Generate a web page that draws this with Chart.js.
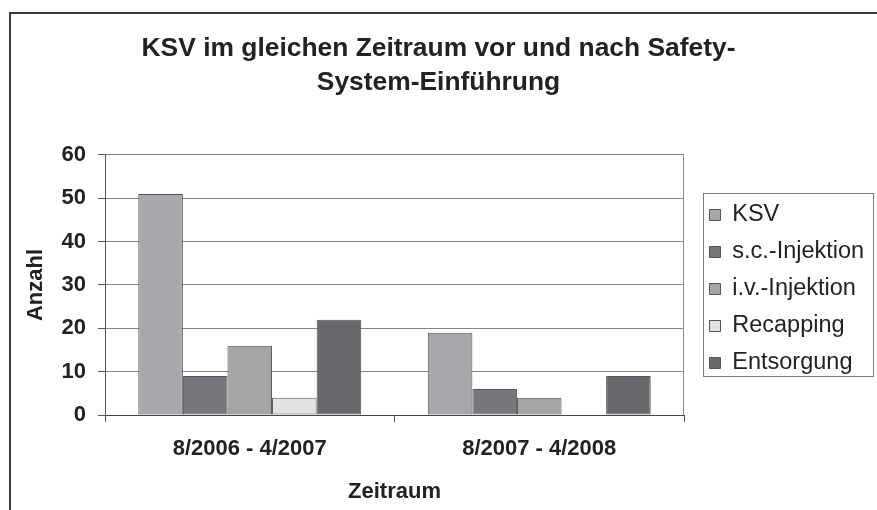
<!DOCTYPE html>
<html>
<head>
<meta charset="utf-8">
<script src="https://cdn.jsdelivr.net/npm/chart.js@4/dist/chart.umd.min.js"></script>
<style>
  html, body { margin: 0; padding: 0; background: #ffffff; }
  #wrap { width: 877px; height: 510px; }
</style>
</head>
<body>
<div id="wrap"><canvas id="c" width="877" height="510"></canvas></div>
<script>
// ---- data ----
const categories = ['8/2006 - 4/2007', '8/2007 - 4/2008'];
const seriesNames = ['KSV', 's.c.-Injektion', 'i.v.-Injektion', 'Recapping', 'Entsorgung'];
const ksv = [51, 19];
const scInjektion = [9, 6];
const ivInjektion = [16, 4];
const recapping = [4, 0];
const entsorgung = [22, 9];
const yTicks = [0, 10, 20, 30, 40, 50, 60];
const titleLines = ['KSV im gleichen Zeitraum vor und nach Safety-', 'System-Einführung'];
const yTitle = 'Anzahl';
const xTitle = 'Zeitraum';

// ---- styles ----
const FONT = '"Liberation Sans", Arial, Helvetica, sans-serif';
const TEXT = '#222222';
const colors = ['#a7a8ab', '#76777a', '#a4a5a7', '#e1e2e3', '#67686b'];
const seriesValues = [ksv, scInjektion, ivInjektion, recapping, entsorgung];

const datasets = seriesNames.map((name, i) => ({
  label: name,
  data: seriesValues[i],
  backgroundColor: colors[i],
  borderColor: '#555555',
  borderWidth: 1,
  borderSkipped: false,
  categoryPercentage: 0.77,
  barPercentage: 1.0
}));

const framePlugin = {
  id: 'frame',
  beforeLayout(chart) {
    const lg = chart.legend;
    if (lg && !lg._patchedFit) {
      const orig = lg.fit;
      lg.fit = function () { orig.call(this); this.width = 193; };
      lg._patchedFit = true;
    }
  },
  afterLayout(chart) {
    const lg = chart.legend;
    if (lg) {
      lg.left = chart.chartArea.right + 12;
      lg.right = lg.left + 181;
      lg.top += 34;
      lg.bottom += 34;
    }
  },
  beforeDraw(chart) {
    const ctx = chart.ctx;
    ctx.save();
    ctx.fillStyle = '#ffffff';
    ctx.fillRect(0, 0, chart.width, chart.height);
    ctx.restore();
  },
  afterDraw(chart) {
    const ctx = chart.ctx;
    const a = chart.chartArea;
    ctx.save();
    // right plot edge
    ctx.strokeStyle = '#8c8c8c';
    ctx.lineWidth = 1;
    ctx.beginPath();
    ctx.moveTo(Math.round(a.right) - 0.5, a.top);
    ctx.lineTo(Math.round(a.right) - 0.5, a.bottom);
    ctx.stroke();
    // legend frame
    ctx.strokeStyle = '#7a7a7a';
    ctx.strokeRect(Math.round(a.right) + 19.5, 193.5, 170, 183);
    // outer chart frame (partly outside canvas)
    ctx.strokeStyle = '#3a3a3a';
    ctx.lineWidth = 2;
    ctx.strokeRect(10, 13, 1000, 1000);
    ctx.restore();
  }
};

new Chart(document.getElementById('c'), {
  type: 'bar',
  data: { labels: categories, datasets: datasets },
  options: {
    responsive: false,
    animation: false,
    devicePixelRatio: 1,
    layout: { padding: 0 },
    plugins: {
      tooltip: { enabled: false },
      title: {
        display: true,
        text: titleLines,
        color: TEXT,
        font: { family: FONT, size: 26.4, weight: 'bold', lineHeight: 1.28 },
        padding: { top: 32, bottom: 55.4 }
      },
      legend: {
        display: true,
        position: 'right',
        align: 'center',
        labels: {
          color: TEXT,
          font: { family: FONT, size: 23.5 },
          boxWidth: 11,
          boxHeight: 11,
          padding: 13.5
        }
      }
    },
    scales: {
      x: {
        grid: {
          display: true,
          drawOnChartArea: false,
          drawTicks: true,
          tickLength: 7,
          tickColor: '#555555',
          offset: true
        },
        border: { display: true, color: '#444444', width: 1 },
        ticks: {
          color: TEXT,
          padding: 13.5,
          font: { family: FONT, size: 22, weight: 'bold' },
          maxRotation: 0
        },
        title: {
          display: true,
          text: xTitle,
          color: TEXT,
          font: { family: FONT, size: 22, weight: 'bold' },
          padding: { top: 0, bottom: 5 }
        },
        afterFit(scale) { scale.height = 95; }
      },
      y: {
        min: 0,
        max: 60,
        afterBuildTicks(scale) { scale.ticks = yTicks.map(v => ({ value: v })); },
        grid: {
          color: '#848484',
          lineWidth: 1,
          drawTicks: true,
          tickLength: 7,
          tickColor: '#555555'
        },
        border: { display: true, color: '#555555', width: 1 },
        ticks: {
          color: TEXT,
          padding: 12,
          font: { family: FONT, size: 22, weight: 'bold' }
        },
        title: {
          display: true,
          text: yTitle,
          color: TEXT,
          font: { family: FONT, size: 22, weight: 'bold' },
          padding: { top: 23, bottom: 0 }
        },
        afterFit(scale) { scale.width = 105; }
      }
    }
  },
  plugins: [framePlugin]
});
</script>
</body>
</html>
